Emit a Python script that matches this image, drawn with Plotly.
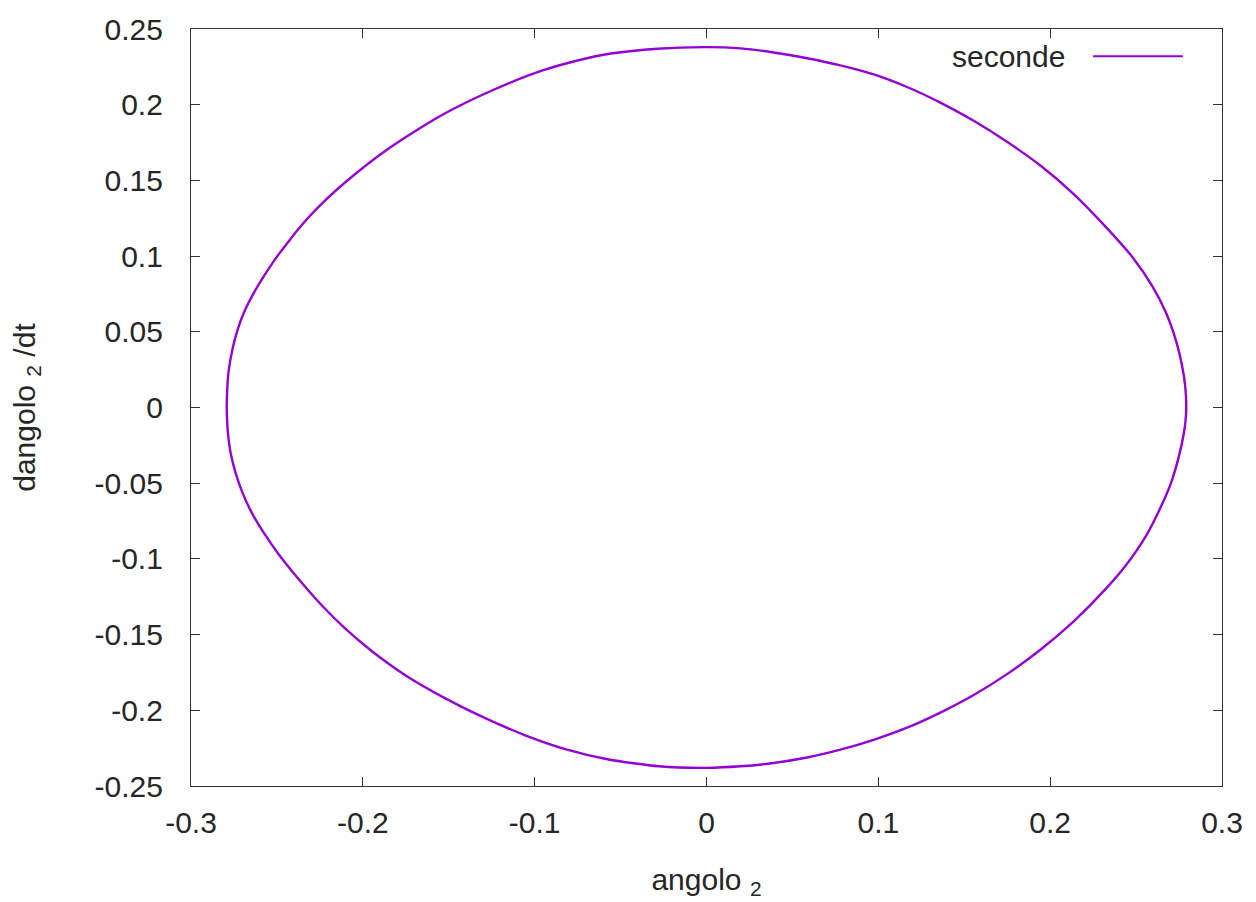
import plotly.graph_objects as go

# Phase-space orbit of the second angle: (angolo_2, dangolo_2/dt), traversed clockwise
angolo2 = [
    -0.2792, -0.2789, -0.2781, -0.2757, -0.2727, -0.2692, -0.2644, -0.2586, -0.2518, -0.2422,
    -0.2326, -0.2210, -0.2048, -0.1874, -0.1680, -0.1526, -0.1332, -0.1138, -0.0945, -0.0751,
    -0.0557, -0.0286, 0.0003, 0.0197, 0.0391, 0.0585, 0.0779, 0.0973, 0.1167, 0.1361,
    0.1555, 0.1749, 0.1943, 0.2137, 0.2322, 0.2477, 0.2596, 0.2675, 0.2736, 0.2768,
    0.2786, 0.2792, 0.2788, 0.2778, 0.2749, 0.2703, 0.2637, 0.2557, 0.2442, 0.2322,
    0.2137, 0.1943, 0.1749, 0.1555, 0.1361, 0.1167, 0.0973, 0.0779, 0.0585, 0.0391,
    0.0197, 0.0003, -0.0278, -0.0569, -0.0822, -0.1055, -0.1288, -0.1520, -0.1753, -0.1947,
    -0.2102, -0.2238, -0.2374, -0.2490, -0.2577, -0.2646, -0.2700, -0.2740, -0.2769, -0.2785,
    -0.2790, -0.2792,
]
dangolo2_dt = [
    0.0000, 0.0125, 0.0240, 0.0395, 0.0520, 0.0627, 0.0737, 0.0849, 0.0967, 0.1112,
    0.1243, 0.1378, 0.1539, 0.1691, 0.1836, 0.1940, 0.2051, 0.2148, 0.2230, 0.2292,
    0.2338, 0.2370, 0.2380, 0.2372, 0.2345, 0.2307, 0.2260, 0.2200, 0.2117, 0.2014,
    0.1894, 0.1755, 0.1598, 0.1410, 0.1195, 0.0996, 0.0799, 0.0624, 0.0427, 0.0274,
    0.0140, 0.0000, -0.0085, -0.0170, -0.0323, -0.0499, -0.0673, -0.0849, -0.1040, -0.1200,
    -0.1412, -0.1600, -0.1761, -0.1899, -0.2015, -0.2115, -0.2195, -0.2260, -0.2312, -0.2348,
    -0.2370, -0.2380, -0.2370, -0.2325, -0.2256, -0.2165, -0.2052, -0.1921, -0.1768, -0.1610,
    -0.1461, -0.1308, -0.1133, -0.0969, -0.0827, -0.0696, -0.0564, -0.0433, -0.0302, -0.0170,
    -0.0080, 0.0000,
]

x_ticks = [-0.3, -0.2, -0.1, 0, 0.1, 0.2, 0.3]
x_tick_labels = ["-0.3", "-0.2", "-0.1", "0", "0.1", "0.2", "0.3"]
y_ticks = [-0.25, -0.2, -0.15, -0.1, -0.05, 0, 0.05, 0.1, 0.15, 0.2, 0.25]
y_tick_labels = ["-0.25", "-0.2", "-0.15", "-0.1", "-0.05", "0",
                 "0.05", "0.1", "0.15", "0.2", "0.25"]

series_name = "seconde"
line_color = "#9400d3"
font_family = "Liberation Sans, Arial, sans-serif"
text_color = "#262626"
font_size = 30
nb = "\u00a0"

fig = go.Figure()
fig.add_trace(go.Scatter(
    x=angolo2, y=dangolo2_dt, mode="lines", name=series_name,
    line=dict(color=line_color, width=2.4, shape="spline", smoothing=0.6),
    showlegend=False,
))

axis_common = dict(
    showgrid=False, zeroline=False,
    showline=True, linecolor="#333333", linewidth=1.2, mirror="allticks",
    ticks="inside", ticklen=9, tickwidth=1.2, tickcolor="#333333",
    tickfont=dict(family=font_family, size=font_size, color=text_color),
)

fig.update_xaxes(
    range=[-0.3, 0.3], tickvals=x_ticks, ticktext=x_tick_labels,
    ticklabelstandoff=10,
    title=dict(text=f"angolo{nb}<sub>2</sub>", standoff=30,
               font=dict(family=font_family, size=font_size, color=text_color)),
    **axis_common,
)
fig.update_yaxes(
    range=[-0.25, 0.25], tickvals=y_ticks, ticktext=y_tick_labels,
    ticklabelstandoff=21,
    title=dict(text=f"dangolo{nb}<sub>2</sub>{nb}/dt", standoff=50,
               font=dict(family=font_family, size=font_size, color=text_color)),
    **axis_common,
)

# Key in the top-right corner: label to the left of its line sample
fig.add_annotation(
    xref="paper", yref="paper", x=0.850, y=0.964, xanchor="right", yanchor="middle",
    text=series_name, showarrow=False,
    font=dict(family=font_family, size=font_size, color=text_color),
)
fig.add_shape(
    type="line", xref="paper", yref="paper",
    x0=0.875, x1=0.962, y0=0.964, y1=0.964,
    line=dict(color=line_color, width=2),
)

fig.update_layout(
    width=1256, height=902,
    margin=dict(l=191, r=34, t=25, b=116),
    paper_bgcolor="white", plot_bgcolor="white",
    font=dict(family=font_family, color=text_color),
)

fig.write_html("out.html")
